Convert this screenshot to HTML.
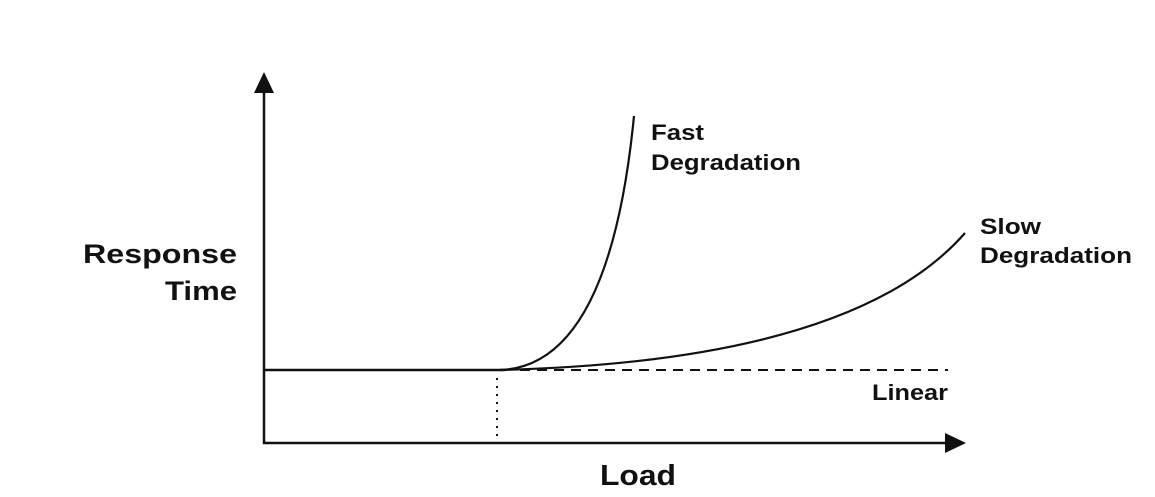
<!DOCTYPE html>
<html><head><style>body{margin:0;background:#fff}</style></head><body>
<svg width="1155" height="497" viewBox="0 0 1155 497" xmlns="http://www.w3.org/2000/svg" style="display:block">
<g stroke="#111" fill="none" stroke-width="2.5">
<line x1="264" y1="88" x2="264" y2="444"/>
<line x1="263" y1="443" x2="950" y2="443"/>
<line x1="264" y1="370" x2="505" y2="370"/>
<line x1="520" y1="370" x2="948" y2="370" stroke-dasharray="10,7" stroke-width="2"/>
<line x1="497" y1="378" x2="497" y2="440" stroke-dasharray="2,6" stroke-width="2"/>
<path d="M500 370 C 560 368, 615 310, 634 116" stroke-width="2.2"/>
<path d="M500 370 C 700 365, 880 330, 965 233" stroke-width="2.2"/>
</g>
<polygon points="264,72 254,93 274,93" fill="#111"/>
<polygon points="966,443 945,433 945,453" fill="#111"/>
<g font-family="Liberation Sans, sans-serif" font-weight="bold" fill="#111">
<text x="83" y="263" font-size="27" textLength="154" lengthAdjust="spacingAndGlyphs">Response</text>
<text x="165" y="300" font-size="27" textLength="72" lengthAdjust="spacingAndGlyphs">Time</text>
<text x="600" y="485" font-size="29" textLength="76" lengthAdjust="spacingAndGlyphs">Load</text>
<text x="651" y="140" font-size="22" textLength="53" lengthAdjust="spacingAndGlyphs">Fast</text>
<text x="651" y="170" font-size="22" textLength="150" lengthAdjust="spacingAndGlyphs">Degradation</text>
<text x="980" y="234" font-size="22" textLength="61" lengthAdjust="spacingAndGlyphs">Slow</text>
<text x="980" y="263" font-size="22" textLength="152" lengthAdjust="spacingAndGlyphs">Degradation</text>
<text x="872" y="400" font-size="22" textLength="76" lengthAdjust="spacingAndGlyphs">Linear</text>
</g>
</svg>
</body></html>
